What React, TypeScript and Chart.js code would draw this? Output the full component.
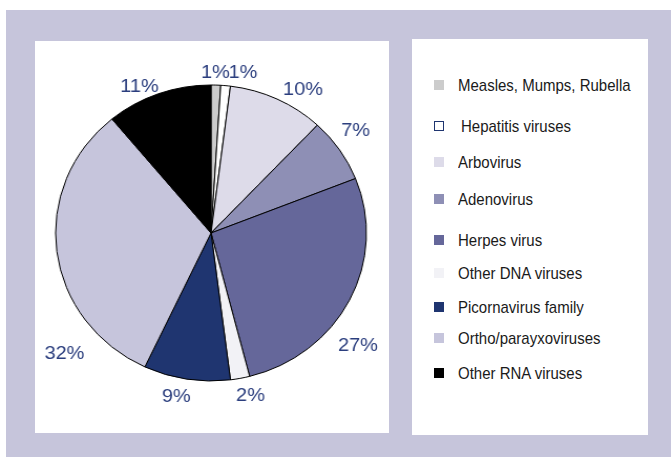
import React, { useEffect, useRef } from "react";
import { Chart, registerables } from "chart.js";

Chart.register(...registerables);

// ---- data ----
const categories = [
  "Measles, Mumps, Rubella",
  "Hepatitis viruses",
  "Arbovirus",
  "Adenovirus",
  "Herpes virus",
  "Other DNA viruses",
  "Picornavirus family",
  "Ortho/parayxoviruses",
  "Other RNA viruses",
];
const shares = [1, 1, 10, 7, 27, 2, 9, 32, 11];
const percentLabels = ["1%", "1%", "10%", "7%", "27%", "2%", "9%", "32%", "11%"];

// ---- styles ----
const sliceColors = [
  "#cccccc",
  "#ffffff",
  "#dddbe9",
  "#8e8fb5",
  "#65679a",
  "#f2f2f6",
  "#1f3570",
  "#c6c5dc",
  "#000000",
];
const legendBorders = [
  "#cccccc",
  "#1f3570",
  "#dddbe9",
  "#8e8fb5",
  "#65679a",
  "#f2f2f6",
  "#1f3570",
  "#c6c5dc",
  "#000000",
];
// label placement: angle (deg, clockwise from top) and distance as a multiple of the radius
const labelAngles = [1.5, 10.8, 31.5, 53.4, 128.9, 167, 191.4, 229.1, 335];
const labelDistances = [1.08, 1.1, 1.133, 1.159, 1.215, 1.129, 1.13, 1.247, 1.09];
// legend row heights (px)
const legendRowHeights = [41, 36, 37, 41, 33, 34, 31, 35, 36];

const LABEL_COLOR = "#2b3e7e";
const BG = "#c6c5db";
const FONT = "'Liberation Sans', Arial, sans-serif";

const outsideLabels = {
  id: "outsideLabels",
  afterDatasetsDraw(chart: any) {
    const ctx = chart.ctx;
    const meta = chart.getDatasetMeta(0);
    ctx.save();
    ctx.font = `19px ${FONT}`;
    ctx.fillStyle = LABEL_COLOR;
    ctx.textAlign = "center";
    ctx.textBaseline = "middle";
    meta.data.forEach((arc: any, i: number) => {
      const { x, y, outerRadius } = arc.getProps(["x", "y", "outerRadius"], true);
      const a = (labelAngles[i] * Math.PI) / 180;
      const d = outerRadius * labelDistances[i];
      ctx.fillText(percentLabels[i], x + Math.sin(a) * d, y - Math.cos(a) * d);
    });
    ctx.restore();
  },
};

function PieChart() {
  const ref = useRef<HTMLCanvasElement | null>(null);
  useEffect(() => {
    if (!ref.current) return;
    const chart = new Chart(ref.current, {
      type: "pie",
      data: {
        labels: categories,
        datasets: [
          {
            data: shares,
            backgroundColor: sliceColors,
            borderColor: "#000000",
            borderWidth: 1,
            radius: 148,
          } as any,
        ],
      },
      options: {
        animation: false,
        responsive: false,
        layout: { padding: { left: 0, right: 2, top: 0, bottom: 8 } },
        plugins: {
          legend: { display: false },
          tooltip: { enabled: false },
        },
      },
      plugins: [outsideLabels],
    });
    return () => chart.destroy();
  }, []);
  return (
    <div style={{ transform: "scaleX(1.05)", transformOrigin: "176px 50%" }}>
      <canvas ref={ref} width={354} height={392} style={{ display: "block" }} />
    </div>
  );
}

export default function App() {
  return (
    <div
      style={{
        position: "absolute",
        left: 0,
        top: 0,
        width: 671,
        height: 457,
        background: "#ffffff",
        overflow: "hidden",
        fontFamily: FONT,
      }}
    >
      <div style={{ position: "absolute", left: 6, top: 10, width: 665, height: 447, background: BG }} />
      <div
        style={{
          position: "absolute",
          left: 35,
          top: 41,
          width: 354,
          height: 392,
          background: "#ffffff",
          overflow: "hidden",
        }}
      >
        <PieChart />
      </div>
      <div
        style={{
          position: "absolute",
          left: 412,
          top: 39,
          width: 236,
          height: 396,
          background: "#ffffff",
        }}
      >
        <div style={{ position: "absolute", left: 22, top: 28 }}>
          {categories.map((c, i) => (
            <div
              key={c}
              style={{
                height: 36,
                marginBottom: legendRowHeights[i] - 36,
                display: "flex",
                alignItems: "center",
              }}
            >
              <div
                style={{
                  width: 10,
                  height: 10,
                  boxSizing: "border-box",
                  background: sliceColors[i],
                  border: `1px solid ${legendBorders[i]}`,
                  marginRight: i === 1 ? 17 : 14,
                }}
              />
              <span
                style={{
                  fontSize: 15,
                  color: "#1a1a1a",
                  whiteSpace: "nowrap",
                  display: "inline-block",
                  transform: "scaleY(1.08)",
                }}
              >
                {c}
              </span>
            </div>
          ))}
        </div>
      </div>
    </div>
  );
}
